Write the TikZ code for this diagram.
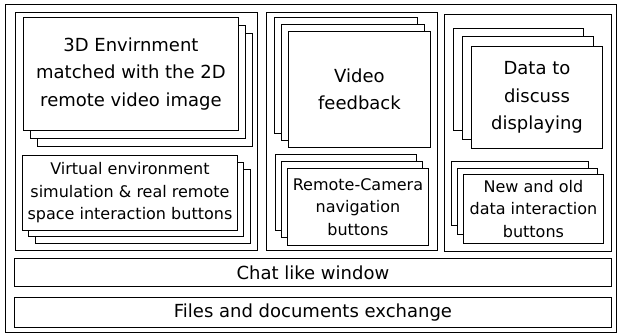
\documentclass[tikz,border=0pt]{standalone}
\usepackage{fontspec}
\setmainfont{DejaVu Sans}
\usetikzlibrary{positioning}
\tikzset{
    every node/.style={font=\fontsize{16}{22.5}\selectfont},
    frame/.style={draw,line width=0.9pt,rectangle,inner sep=0pt,anchor=north west},
    win/.style={draw,line width=0.9pt,fill=white,rectangle,inner sep=0pt,anchor=north west,align=center},
    big/.style={font=\fontsize{18}{27.5}\selectfont}
}

\begin{document}
\begin{tikzpicture}[x=1pt,y=-1pt]
    \useasboundingbox (0,0) rectangle (619,334);

    % outer window and the three panels
    \node[frame,minimum width=611pt,minimum height=328pt] (screen) at (5,4) {};
    \node[frame,minimum width=242pt,minimum height=238pt] (envpanel) at (15,12) {};
    \node[frame,minimum width=171pt,minimum height=238pt] (videopanel) at (266,12) {};
    \node[frame,minimum width=167pt,minimum height=237pt] (datapanel) at (444,14) {};

    % 3D environment stack
    \node[win,minimum width=215pt,minimum height=113pt] (env3) at (37,33) {};
    \node[win,minimum width=215pt,minimum height=113pt] (env2) at (30,25) {};
    \node[win,big,minimum width=215pt,minimum height=113pt] (env1) at (23,17)
        {3D Envirnment\\matched with the 2D\\remote video image};

    \node[win,minimum width=215pt,minimum height=74pt] (sim3) at (35,169) {};
    \node[win,minimum width=215pt,minimum height=74pt] (sim2) at (28,162) {};
    \node[win,minimum width=215pt,minimum height=75pt] (sim1) at (22,155)
        {Virtual environment\\simulation \& real remote\\space interaction buttons};

    % video stack
    \node[win,minimum width=143pt,minimum height=116pt] (video3) at (274,17) {};
    \node[win,minimum width=143pt,minimum height=116pt] (video2) at (281,24) {};
    \node[win,big,minimum width=142pt,minimum height=116pt] (video1) at (288,31)
        {Video\\feedback};

    \node[win,minimum width=141pt,minimum height=76pt] (cam3) at (275,154) {};
    \node[win,minimum width=141pt,minimum height=76pt] (cam2) at (281,161) {};
    \node[win,minimum width=141pt,minimum height=77pt] (cam1) at (287,168)
        {Remote-Camera\\navigation\\buttons};

    % data stack
    \node[win,minimum width=130pt,minimum height=102pt] (data3) at (453,28) {};
    \node[win,minimum width=131pt,minimum height=103pt] (data2) at (462,36) {};
    \node[win,big,minimum width=131pt,minimum height=102pt] (data1) at (471,46)
        {Data to\\discuss\\displaying};

    \node[win,minimum width=137pt,minimum height=64pt] (btn3) at (451,161) {};
    \node[win,minimum width=140pt,minimum height=66pt] (btn2) at (457,168) {};
    \node[win,minimum width=140pt,minimum height=69pt] (btn1) at (463,174)
        {New and old\\data interaction\\buttons};

    % bottom bars
    \node[win,big,minimum width=597pt,minimum height=28pt] (chat) at (14,258) {Chat like window};
    \node[win,big,minimum width=597pt,minimum height=30pt] (files) at (14,297) {Files and documents exchange};
\end{tikzpicture}
\end{document}
